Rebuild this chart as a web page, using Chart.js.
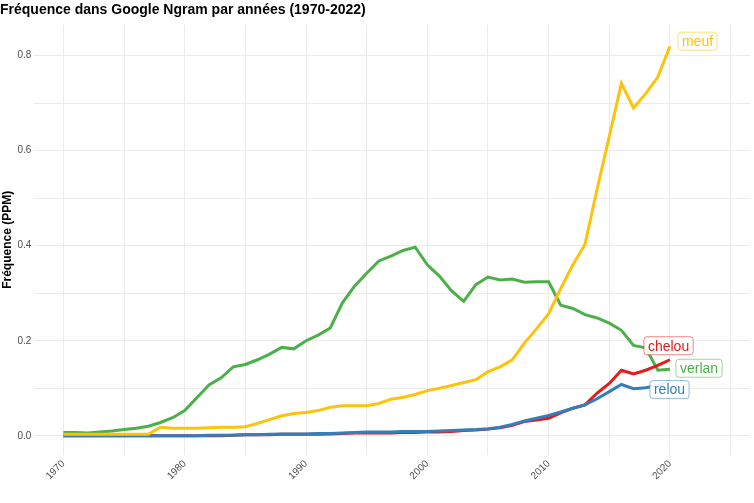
<!DOCTYPE html><html><head><meta charset="utf-8"><script src="https://cdn.jsdelivr.net/npm/chart.js@4"></script>
<style>body{margin:0;background:#fff}#w{width:754px;height:503px}</style></head><body><div id="w"><canvas id="c"></canvas></div>
<script>
const years=[];for(let y=1970;y<=2020;y++)years.push(y);
const verlan=[0.007,0.007,0.006,0.008,0.01,0.013,0.016,0.02,0.028,0.038,0.053,0.08,0.107,0.122,0.145,0.15,0.16,0.172,0.186,0.183,0.2,0.212,0.227,0.28,0.315,0.342,0.368,0.378,0.39,0.397,0.36,0.336,0.305,0.283,0.318,0.334,0.328,0.33,0.323,0.324,0.324,0.275,0.268,0.255,0.248,0.237,0.222,0.19,0.185,0.138,0.14];
const meuf=[0.003,0.003,0.003,0.003,0.003,0.003,0.003,0.003,0.018,0.016,0.016,0.016,0.017,0.018,0.018,0.019,0.026,0.034,0.042,0.047,0.049,0.053,0.06,0.063,0.063,0.063,0.068,0.077,0.081,0.087,0.095,0.1,0.106,0.112,0.118,0.135,0.145,0.16,0.195,0.225,0.257,0.31,0.36,0.403,0.52,0.63,0.742,0.69,0.72,0.755,0.82];
const chelou=[0,0,0,0,0,0,0,0,0,0,0,0,0,0,0.001,0.002,0.002,0.002,0.003,0.003,0.003,0.003,0.004,0.005,0.006,0.006,0.006,0.006,0.007,0.007,0.008,0.008,0.009,0.011,0.012,0.014,0.017,0.022,0.03,0.033,0.037,0.048,0.058,0.065,0.09,0.11,0.138,0.13,0.138,0.148,0.16];
const relou=[0,0,0,0,0,0,0,0,0,0,0,0,0.001,0.001,0.001,0.002,0.002,0.003,0.004,0.004,0.004,0.005,0.005,0.006,0.007,0.008,0.008,0.008,0.009,0.009,0.009,0.01,0.011,0.012,0.013,0.015,0.018,0.024,0.031,0.037,0.043,0.05,0.058,0.065,0.078,0.093,0.108,0.099,0.101,0.106,0.114];
const names=['meuf','relou','chelou','verlan'];
const colors=['#FFC20A','#377EB8','#E41A1C','#4DAF4A'];
const series=[meuf,relou,chelou,verlan];
const labelOffsets={meuf:[8,-5],verlan:[6,-1],chelou:[-26,-14],relou:[-20,8]};
const ds=names.map((n,i)=>({label:n,data:series[i].map((v,j)=>({x:years[j],y:v})),borderColor:colors[i],borderWidth:3,pointRadius:0,tension:0,fill:false}));
const labelPlugin={id:'lab',afterDatasetsDraw(ch){const c=ch.ctx,xs=ch.scales.x,ys=ch.scales.y;c.save();c.font='14px "Liberation Sans", Arial';c.textBaseline='middle';
names.forEach((n,i)=>{const s=series[i];const x=xs.getPixelForValue(2020)+labelOffsets[n][0],y=ys.getPixelForValue(s[s.length-1])+labelOffsets[n][1];const w=c.measureText(n).width+8;
c.fillStyle='rgba(255,255,255,0.9)';c.strokeStyle=colors[i]+'88';c.lineWidth=1;c.beginPath();c.roundRect(x,y-9,w,18,3);c.fill();c.stroke();c.fillStyle=colors[i];c.fillText(n,x+4,y+1);});c.restore();}};
new Chart(document.getElementById('c'),{type:'line',data:{datasets:ds},plugins:[labelPlugin],options:{responsive:true,maintainAspectRatio:false,animation:false,
layout:{padding:{left:0,right:4,top:0,bottom:18}},
plugins:{legend:{display:false},tooltip:{enabled:false},title:{display:true,text:'Fréquence dans Google Ngram par années (1970-2022)',align:'start',color:'#000',font:{family:'"Liberation Sans", Arial',size:14,weight:'bold'},padding:{top:2,bottom:6}}},
scales:{x:{type:'linear',min:1967.6,max:2026.6,afterBuildTicks(a){a.ticks=[];for(let v=1970;v<=2025;v+=5)a.ticks.push({value:v});},grid:{color:'#ebebeb',drawTicks:false},border:{display:false},
ticks:{maxRotation:45,minRotation:45,color:'#4d4d4d',font:{family:'"Liberation Sans", Arial',size:10},callback:v=>(v%10===0&&v<=2020)?String(v):''}},
y:{min:-0.04,max:0.865,afterBuildTicks(a){a.ticks=[];for(let v=0;v<=0.8001;v+=0.1)a.ticks.push({value:Math.round(v*10)/10});},grid:{color:'#ebebeb',drawTicks:false},border:{display:false},
ticks:{padding:3,color:'#4d4d4d',font:{family:'"Liberation Sans", Arial',size:10},callback:v=>{const r=Math.round(v*10);return r%2===0?v.toFixed(1):'';}},
title:{display:true,text:'Fréquence (PPM)',color:'#000',font:{family:'"Liberation Sans", Arial',size:12,weight:'bold'},padding:{top:0,bottom:0}}}}}});
</script></body></html>
